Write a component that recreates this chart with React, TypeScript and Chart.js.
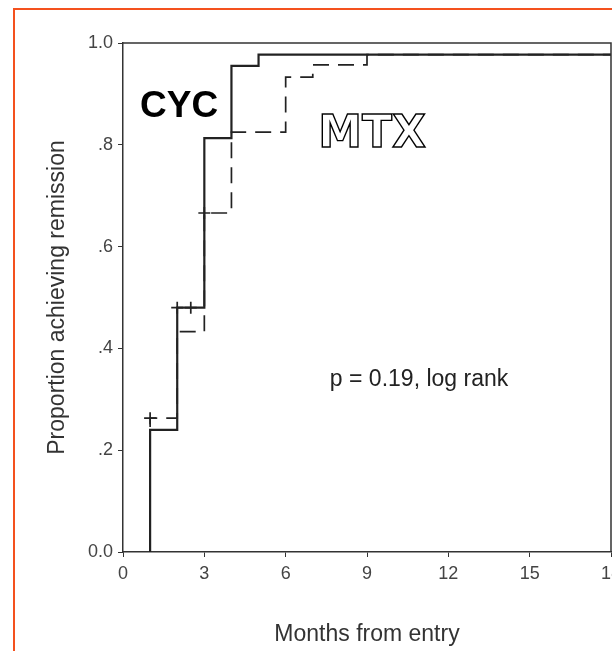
import React, { useEffect, useRef } from "react";
import { Chart, registerables } from "chart.js";

Chart.register(...registerables);

// Kaplan-Meier steps (months, proportion achieving remission)
const cycTimes = [1, 1, 2, 3, 4, 5, 18];
const cycProp = [0, 0.24, 0.48, 0.813, 0.955, 0.977, 0.977];
const mtxTimes = [1, 1, 2, 3, 4, 6, 7, 9, 18];
const mtxProp = [0, 0.263, 0.433, 0.666, 0.825, 0.933, 0.957, 0.977, 0.977];
// censor marks
const cycCensorTimes = [2, 2.5];
const cycCensorProp = [0.48, 0.48];
const mtxCensorTimes = [1, 3];
const mtxCensorProp = [0.263, 0.666];

const yTickLabels = ["0.0", ".2", ".4", ".6", ".8", "1.0"];
const xTitle = "Months from entry";
const yTitle = "Proportion achieving remission";
const labelCYC = "CYC";
const labelMTX = "MTX";
const pText = "p = 0.19, log rank";

const FONT = "'Liberation Sans', Arial, Helvetica, sans-serif";
const INK = "#222";

const boxPlugin = {
  id: "boxAndText",
  afterDatasetsDraw(chart: any) {
    const { ctx, chartArea, scales } = chart;
    const xs = scales.x;
    const ys = scales.y;
    ctx.save();
    ctx.strokeStyle = "#333";
    ctx.lineWidth = 1.5;
    ctx.beginPath();
    ctx.moveTo(chartArea.left, chartArea.top);
    ctx.lineTo(chartArea.right, chartArea.top);
    ctx.lineTo(chartArea.right, chartArea.bottom);
    ctx.stroke();

    // CYC label
    ctx.fillStyle = "#000";
    ctx.font = `bold 37px ${FONT}`;
    ctx.textAlign = "left";
    ctx.textBaseline = "alphabetic";
    ctx.fillText(labelCYC, xs.getPixelForValue(0.63), ys.getPixelForValue(0.855));

    // MTX outlined label
    ctx.font = `bold 44px 'DejaVu Sans', ${FONT}`;
    ctx.lineWidth = 1.4;
    ctx.strokeStyle = "#000";
    ctx.fillStyle = "#fff";
    const mx = xs.getPixelForValue(7.2);
    const my = ys.getPixelForValue(0.796);
    ctx.fillText(labelMTX, mx, my);
    ctx.strokeText(labelMTX, mx, my);

    // p value
    ctx.fillStyle = INK;
    ctx.font = `23px ${FONT}`;
    ctx.textBaseline = "middle";
    ctx.fillText(pText, xs.getPixelForValue(7.63), ys.getPixelForValue(0.338));
    ctx.restore();
  },
};

export default function App() {
  const ref = useRef<HTMLCanvasElement | null>(null);

  useEffect(() => {
    const canvas = ref.current;
    if (!canvas) return;
    const toPts = (xs: number[], ys: number[]) => xs.map((x, i) => ({ x, y: ys[i] }));
    const chart = new Chart(canvas, {
      type: "line",
      data: {
        datasets: [
          {
            label: "MTX",
            data: toPts(mtxTimes, mtxProp),
            stepped: true,
            borderColor: INK,
            borderWidth: 1.7,
            borderDash: [16, 9],
            pointRadius: 0,
            fill: false,
          },
          {
            label: "CYC",
            data: toPts(cycTimes, cycProp),
            stepped: true,
            borderColor: INK,
            borderWidth: 2.2,
            pointRadius: 0,
            fill: false,
          },
          {
            label: "CYC censored",
            type: "scatter",
            data: toPts(cycCensorTimes, cycCensorProp),
            showLine: false,
            pointStyle: "cross",
            pointRadius: 6,
            borderColor: INK,
            borderWidth: 1.7,
          },
          {
            label: "MTX censored",
            type: "scatter",
            data: toPts(mtxCensorTimes, mtxCensorProp),
            showLine: false,
            pointStyle: "cross",
            pointRadius: 6,
            borderColor: INK,
            borderWidth: 1.7,
          },
        ] as any,
      },
      options: {
        animation: false,
        responsive: false,
        maintainAspectRatio: false,
        devicePixelRatio: 1,
        layout: { padding: { top: 43, right: 39, bottom: 0, left: 0 } },
        plugins: {
          legend: { display: false },
          tooltip: { enabled: false },
          title: { display: false },
        },
        scales: {
          x: {
            type: "linear",
            min: 0,
            max: 18,
            afterFit: (s: any) => {
              s.height = 99;
            },
            ticks: {
              stepSize: 3,
              color: "#444",
              font: { family: FONT, size: 18 },
              padding: 6,
              maxRotation: 0,
              autoSkip: false,
            },
            grid: {
              drawOnChartArea: false,
              drawTicks: true,
              tickLength: 5,
              color: "#333",
            },
            border: { display: true, color: "#333", width: 1.5 },
            title: {
              display: true,
              text: xTitle,
              color: "#333",
              font: { family: FONT, size: 23 },
              padding: { top: 0, bottom: 3 },
            },
          },
          y: {
            type: "linear",
            min: 0,
            max: 1,
            afterFit: (s: any) => {
              s.width = 123;
            },
            ticks: {
              stepSize: 0.2,
              color: "#444",
              font: { family: FONT, size: 18 },
              padding: 5,
              callback: (v: any) => yTickLabels[Math.round(Number(v) * 5)],
            },
            grid: {
              drawOnChartArea: false,
              drawTicks: true,
              tickLength: 5,
              color: "#333",
            },
            border: { display: true, color: "#333", width: 1.5 },
            title: {
              display: true,
              text: yTitle,
              color: "#333",
              font: { family: FONT, size: 23 },
              padding: { top: 44, bottom: 0 },
            },
          },
        },
      } as any,
      plugins: [boxPlugin],
    });
    return () => chart.destroy();
  }, []);

  return (
    <div
      style={{
        position: "fixed",
        left: 0,
        top: 0,
        width: 612,
        height: 651,
        overflow: "hidden",
        background: "#fff",
      }}
    >
      <div
        style={{
          position: "absolute",
          left: 13,
          top: 8,
          width: 700,
          height: 700,
          borderLeft: "2px solid #f4511e",
          borderTop: "2px solid #f4511e",
        }}
      />
      <canvas
        ref={ref}
        width={650}
        height={651}
        style={{ position: "absolute", left: 0, top: 0, width: 650, height: 651 }}
      />
    </div>
  );
}
